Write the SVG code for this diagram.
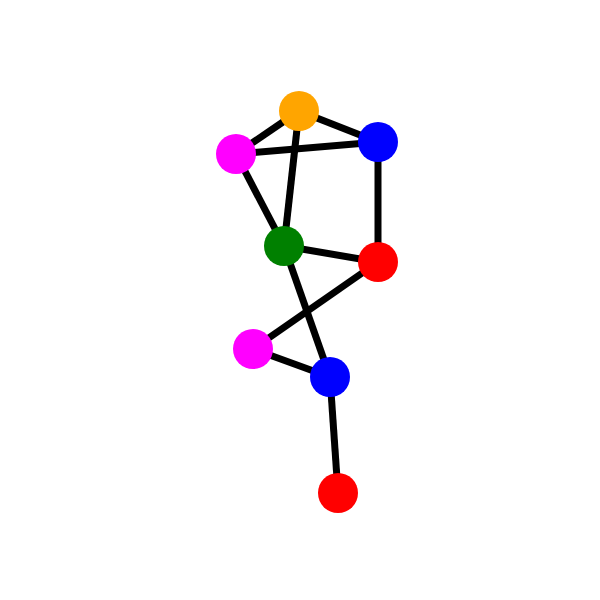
<svg xmlns="http://www.w3.org/2000/svg" width="600" height="600" viewBox="0 0 600 600">
<style>
.e{stroke:#000;stroke-width:7;fill:none}
.n{stroke:none}
</style>
<rect width="600" height="600" fill="#fff"/>
<g id="edges">
<line class="e" x1="299" y1="111" x2="236" y2="154"/>
<line class="e" x1="299" y1="111" x2="378" y2="142"/>
<line class="e" x1="236" y1="154" x2="378" y2="142"/>
<line class="e" x1="299" y1="111" x2="284" y2="246"/>
<line class="e" x1="236" y1="154" x2="284" y2="246"/>
<line class="e" x1="378" y1="142" x2="378" y2="262"/>
<line class="e" x1="284" y1="246" x2="378" y2="262"/>
<line class="e" x1="284" y1="246" x2="330" y2="377"/>
<line class="e" x1="378" y1="262" x2="253" y2="349"/>
<line class="e" x1="253" y1="349" x2="330" y2="377"/>
<line class="e" x1="330" y1="377" x2="338" y2="493"/>
</g>
<g id="n1"><circle class="n" cx="299" cy="111" r="20" fill="#ffa500"/></g>
<g id="n2"><circle class="n" cx="378" cy="142" r="20" fill="#0000ff"/></g>
<g id="n3"><circle class="n" cx="236" cy="154" r="20" fill="#ff00ff"/></g>
<g id="n4"><circle class="n" cx="284" cy="246" r="20" fill="#008000"/></g>
<g id="n5"><circle class="n" cx="378" cy="262" r="20" fill="#ff0000"/></g>
<g id="n6"><circle class="n" cx="253" cy="349" r="20" fill="#ff00ff"/></g>
<g id="n7"><circle class="n" cx="330" cy="377" r="20" fill="#0000ff"/></g>
<g id="n8"><circle class="n" cx="338" cy="493" r="20" fill="#ff0000"/></g>
</svg>
